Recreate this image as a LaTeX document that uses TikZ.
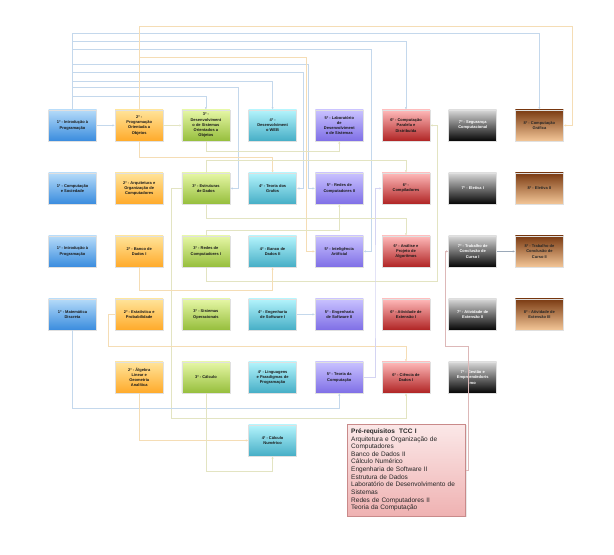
\documentclass[tikz,border=0pt]{standalone}
\usepackage{fontspec}
\setmainfont{Liberation Sans}
\usetikzlibrary{arrows.meta,shadows}
\definecolor{cAt}{HTML}{B5DBF9}\definecolor{cAb}{HTML}{3A8CDE}
\definecolor{cBt}{HTML}{FFE49A}\definecolor{cBb}{HTML}{FFAA2A}
\definecolor{cCt}{HTML}{E6F7A6}\definecolor{cCb}{HTML}{96BE3C}
\definecolor{cDt}{HTML}{B4F4FC}\definecolor{cDb}{HTML}{46AEC6}
\definecolor{cEt}{HTML}{C9C2FF}\definecolor{cEb}{HTML}{7F6FE6}
\definecolor{cFt}{HTML}{FFBABA}\definecolor{cFb}{HTML}{B02424}
\definecolor{cGt}{HTML}{D8D8D8}\definecolor{cGb}{HTML}{050505}
\definecolor{cHt}{HTML}{7A3A12}\definecolor{cHb}{HTML}{F3C697}
\definecolor{lblue}{HTML}{C4D8EC}
\definecolor{lorange}{HTML}{F5DDB5}
\definecolor{lgreen}{HTML}{E3E4C2}
\definecolor{llav}{HTML}{D4D4F2}
\definecolor{lpink}{HTML}{DDB8B8}
\definecolor{lgrayblue}{HTML}{9AA8B8}
\definecolor{notet}{HTML}{FBE8E8}
\definecolor{noteb}{HTML}{EFB2B2}
\definecolor{noted}{HTML}{C98A8A}
\begin{document}
\begin{tikzpicture}[x=1pt,y=-1pt,
  box/.style={minimum width=48pt,minimum height=31pt,inner sep=0.5pt,align=center,
    font=\fontsize{4}{5.2}\selectfont\bfseries,text=black!90,draw=black!12,line width=0.5pt,
    drop shadow={opacity=0.18,shadow xshift=0.7pt,shadow yshift=-0.7pt}},
  cA/.style={box,top color=cAt,bottom color=cAb},
  cB/.style={box,top color=cBt,bottom color=cBb},
  cC/.style={box,top color=cCt,bottom color=cCb},
  cD/.style={box,top color=cDt,bottom color=cDb},
  cE/.style={box,top color=cEt,bottom color=cEb},
  cF/.style={box,top color=cFt,bottom color=cFb},
  cG/.style={box,top color=cGt,bottom color=cGb,text=white},
  cH/.style={box,top color=cHt,bottom color=cHb,text=black!85},
  notebox/.style={minimum width=118pt,minimum height=91.7pt,inner sep=3.5pt,text width=111pt,align=left,
    font=\fontsize{6.5}{7.6}\selectfont,text=black!85,top color=notet,bottom color=noteb,draw=noted,line width=0.5pt,
    drop shadow={opacity=0.18,shadow xshift=0.8pt,shadow yshift=-0.8pt}},
  link/.style={line width=0.8pt,-{Latex[length=2.4pt,width=2.2pt]}},
  lb/.style={link,draw=lblue,-{Latex[length=2.4pt,width=2.2pt,fill=lblue!80!black]}},
  lo/.style={link,draw=lorange},
  lg/.style={link,draw=lgreen},
  lv/.style={link,draw=llav},
  lp/.style={link,draw=lpink},
  lt/.style={link,draw=lgrayblue}]
\useasboundingbox (0,0) rectangle (614,555);
\fill[white] (0,0) rectangle (614,555);

% connectors (drawn first, under boxes)
\coordinate (c1) at (72.5,125.4);
% Row 1
\node[cA] (n11) at (72.5,125.4) {1º - Introdução à\\Programação};
\node[cB] (n12) at (139.2,125.4) {2º -\\Programação\\Orientada a\\Objetos};
\node[cC] (n13) at (205.9,125.4) {3º -\\Desenvolviment\\o de Sistemas\\Orientados a\\Objetos};
\node[cD] (n14) at (272.6,125.4) {4º -\\Desenvolviment\\o WEB};
\node[cE] (n15) at (339.3,125.4) {5º - Laboratório\\de\\Desenvolviment\\o de Sistemas};
\node[cF] (n16) at (406.0,125.4) {6º - Computação\\Paralela e\\Distribuída};
\node[cG] (n17) at (472.7,125.4) {7º - Segurança\\Computacional};
\node[cH] (n18) at (539.4,125.4) {8º - Computação\\Gráfica};
% Row 2
\node[cA] (n21) at (72.5,188.4) {1º - Computação\\e Sociedade};
\node[cB] (n22) at (139.2,188.4) {2º - Arquitetura e\\Organização de\\Computadores};
\node[cC] (n23) at (205.9,188.4) {3º - Estruturas\\de Dados};
\node[cD] (n24) at (272.6,188.4) {4º - Teoria dos\\Grafos};
\node[cE] (n25) at (339.3,188.4) {5º - Redes de\\Computadores II};
\node[cF] (n26) at (406.0,188.4) {6º -\\Compiladores};
\node[cG] (n27) at (472.7,188.4) {7º - Eletiva I};
\node[cH] (n28) at (539.4,188.4) {8º - Eletiva II};
% Row 3
\node[cA] (n31) at (72.5,251.4) {1º - Introdução à\\Programação};
\node[cB] (n32) at (139.2,251.4) {2º - Banco de\\Dados I};
\node[cC] (n33) at (205.9,251.4) {3º - Redes de\\Computadores I};
\node[cD] (n34) at (272.6,251.4) {4º - Banco de\\Dados II};
\node[cE] (n35) at (339.3,251.4) {5º - Inteligência\\Artificial};
\node[cF] (n36) at (406.0,251.4) {6º - Análise e\\Projeto de\\Algoritmos};
\node[cG] (n37) at (472.7,251.4) {7º - Trabalho de\\Conclusão de\\Curso I};
\node[cH] (n38) at (539.4,251.4) {8º - Trabalho de\\Conclusão de\\Curso II};
% Row 4
\node[cA] (n41) at (72.5,314.4) {1º - Matemática\\Discreta};
\node[cB] (n42) at (139.2,314.4) {2º - Estatística e\\Probabilidade};
\node[cC] (n43) at (205.9,314.4) {3º - Sistemas\\Operacionais};
\node[cD] (n44) at (272.6,314.4) {4º - Engenharia\\de Software I};
\node[cE] (n45) at (339.3,314.4) {5º - Engenharia\\de Software II};
\node[cF] (n46) at (406.0,314.4) {6º - Atividade de\\Extensão I};
\node[cG] (n47) at (472.7,314.4) {7º - Atividade de\\Extensão II};
\node[cH] (n48) at (539.4,314.4) {8º - Atividade de\\Extensão III};
% Row 5
\node[cB] (n52) at (139.2,377.4) {2º - Álgebra\\Linear e\\Geometria\\Analítica};
\node[cC] (n53) at (205.9,377.4) {3º - Cálculo};
\node[cD] (n54) at (272.6,377.4) {4º - Linguagens\\e Paradigmas de\\Programação};
\node[cE] (n55) at (339.3,377.4) {5º - Teoria da\\Computação};
\node[cF] (n56) at (406.0,377.4) {6º - Ciência de\\Dados I};
\node[cG] (n57) at (472.7,377.4) {7º - Gestão e\\Empreendedoris\\mo};
% Row 6
\node[cD] (n64) at (272.6,440.4) {4º - Cálculo\\Numérico};
% note
\node[notebox] (note) at (406.7,469.9) {\textbf{Pré-requisitos\ \ TCC I}\\
Arquitetura e Organização de\\Computadores\\Banco de Dados II\\Cálculo Numérico\\
Engenharia de Software II\\Estrutura de Dados\\Laboratório de Desenvolvimento de\\
Sistemas\\Redes de Computadores II\\Teoria da Computação};

\begin{scope}[on background layer/.try]
\end{scope}
% connectors
\draw[lb] (n11.east) -- (n12.west);
\draw[lg] (n12.east) -- (n13.west);
\draw[lb] (n11.north) |- (539.4,33) -- (n18.north);
\draw[lb] (n11.north) |- (406.0,41) -- (n16.north);
\draw[lb] (n11.north) |- (371.0,49) |- (n35.east);
\draw[lb] (n11.north) |- (308.3,64) |- (n25.west);
\draw[lb] (n11.north) |- (303.3,72) |- (n24.east);
\draw[lb] (n11.north) |- (272.6,81) -- (n14.north);
\draw[lb] (n11.north) |- (238.3,87) |- (n23.east);
\draw[lb] (n11.north) |- (205.9,96) -- (n13.north);
\draw[lo] (n12.north) |- (572.5,26) |- (n18.east);
\draw[lo] (n12.north) |- (306.0,57) |- (n35.west);
\draw[lo] (n12.south) |- (272.6,157.7) -- (n24.north);
\draw[lg] (n13.south) |- (339.3,151.7) -- (n15.south);
\draw[lg] (n23.north) |- (406.0,160) -- (n26.north);
\draw[lg] (n23.south) |- (406.0,218.3) -- (n36.north);
\draw[lg] (n23.west) -| (171.7,418) -| (n56.south);
\draw[lg] (n33.north) |- (339.3,230) -- (n25.south);
\draw[lg] (n33.south) |- (437.7,281.7) |- (n16.east);
\draw[lo] (n32.south) |- (272.6,290.7) -- (n34.south);
\draw[lo] (n42.west) -| (108,346) -| (n56.north);
\draw[lb] (n44.east) -- (n45.west);
\draw[lb] (n41.south) |- (339.3,408) -- (n55.south);
\draw[lo] (n52.south) |- (n64.west);
\draw[lg] (n53.south) |- (272.6,471.7) -- (n64.south);
\draw[lv] (n55.east) -| (375,300) |- (n26.west);
\draw[lt] (n37.east) -- (n38.west);
\draw[lp] (note.east) -| (468.3,346) -| (445.7,300) |- (n37.west);
\end{tikzpicture}
\end{document}
